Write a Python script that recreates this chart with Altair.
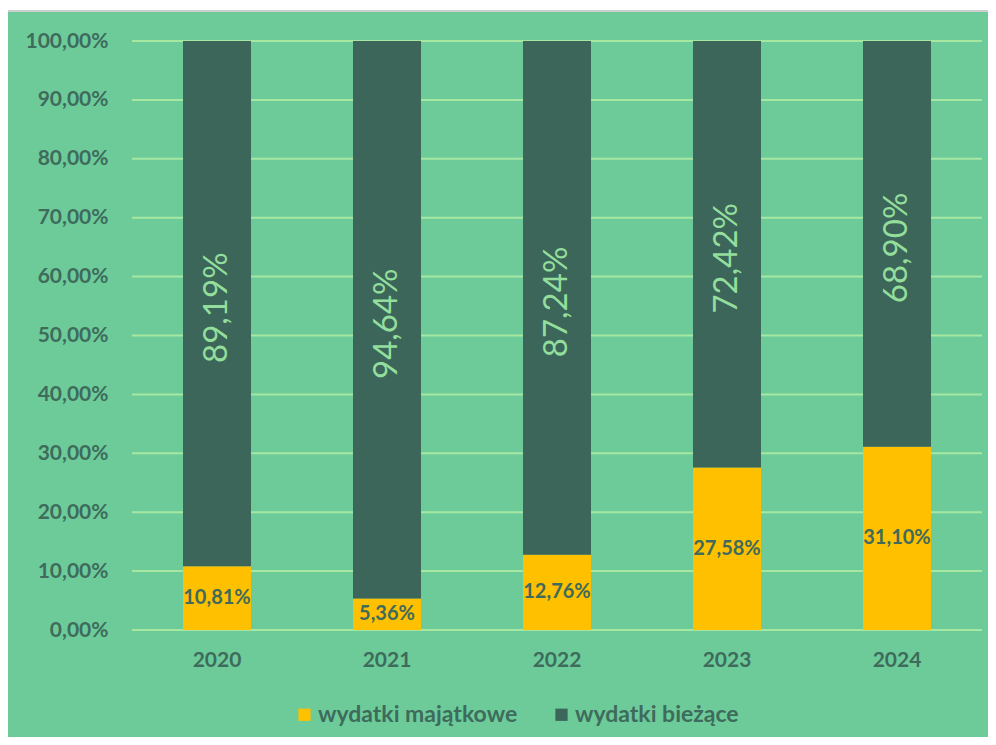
import altair as alt
import pandas as pd

years = ["2020", "2021", "2022", "2023", "2024"]
majatkowe = [10.81, 5.36, 12.76, 27.58, 31.10]
biezace = [89.19, 94.64, 87.24, 72.42, 68.90]
series_names = ["wydatki majątkowe", "wydatki bieżące"]
series_colors = ["#FFC000", "#3B6659"]
y_ticks = [0, 10, 20, 30, 40, 50, 60, 70, 80, 90, 100]

rows = []
for i, y in enumerate(years):
    rows.append({"year": y, "series": series_names[0], "value": majatkowe[i], "order": 0})
    rows.append({"year": y, "series": series_names[1], "value": biezace[i], "order": 1})
df = pd.DataFrame(rows)

BG = "#6DCB9A"
DARK = "#3E6B5C"
GRID = "#A6E8A2"
LIGHT = "#93DE9C"
FONT = "Lato"

PL, PT, W, H = 124, 33, 850, 589
TOTAL_W, TOTAL_H = 980, 729

yscale = alt.Scale(domain=[0, 100], nice=False)

base = alt.Chart(df).transform_stack(
    stack="value", groupby=["year"], as_=["v0", "v1"],
    sort=[alt.SortField("order", order="ascending")]
).transform_calculate(
    mid="(datum.v0 + datum.v1) / 2",
    label="replace(format(datum.value, '.2f'), '.', ',') + '%'"
)

xenc = alt.X("year:N", sort=years, title=None,
             scale=alt.Scale(paddingInner=0.6, paddingOuter=0.3),
             axis=alt.Axis(labelAngle=0, labelFontSize=21, labelFontWeight="bold",
                           labelColor=DARK, labelFont=FONT, labelPadding=19,
                           ticks=False, domain=False, grid=False, zindex=1))

frame = alt.Chart(pd.DataFrame({"a": [0]})).mark_rect(
    fill=BG, stroke="#CFCFCF", strokeWidth=2
).encode(
    x=alt.value(-PL - 2), x2=alt.value(TOTAL_W - PL + 4),
    y=alt.value(-PT + 3), y2=alt.value(TOTAL_H - PT + 4)
)

grid = alt.Chart(pd.DataFrame({"t": y_ticks})).mark_rule(
    color=GRID, strokeWidth=2
).encode(
    y=alt.Y("t:Q", scale=yscale, title=None,
            axis=alt.Axis(values=y_ticks,
                          labelExpr="replace(format(datum.value, '.2f'), '.', ',') + '%'",
                          labelFontSize=21, labelFontWeight="bold", labelColor=DARK,
                          labelFont=FONT, labelPadding=24, ticks=False, domain=False,
                          grid=False, zindex=1)),
    x=alt.value(0), x2=alt.value(W),
)

bars = base.mark_bar().encode(
    x=xenc,
    y=alt.Y("v0:Q", scale=yscale, title=None),
    y2="v1:Q",
    color=alt.Color("series:N",
                    scale=alt.Scale(domain=series_names, range=series_colors),
                    legend=alt.Legend(title=None, orient="none", direction="horizontal",
                                      legendX=161, legendY=662, symbolType="square",
                                      symbolSize=150, symbolStrokeWidth=0,
                                      labelFontSize=23, labelFontWeight="bold",
                                      labelColor=DARK, labelFont=FONT, labelLimit=0,
                                      columnPadding=32, labelOffset=2)),
    order=alt.Order("order:Q"),
)

lab_m = base.transform_filter(alt.datum.order == 0).mark_text(
    fontSize=20, fontWeight="bold", color=DARK, font=FONT
).encode(x=alt.X("year:N", sort=years), y=alt.Y("mid:Q", scale=yscale), text="label:N")

lab_b = base.transform_filter(alt.datum.order == 1).mark_text(
    fontSize=33, color=LIGHT, font=FONT, angle=270, dx=-4
).encode(x=alt.X("year:N", sort=years), y=alt.Y("mid:Q", scale=yscale), text="label:N")

chart = alt.layer(frame, grid, bars, lab_m, lab_b).properties(
    width=W, height=H,
    autosize=alt.AutoSizeParams(type="none"),
    padding={"left": PL, "top": PT, "right": TOTAL_W - PL - W, "bottom": TOTAL_H - PT - H},
    background="white",
).configure_view(stroke=None)

chart.save("out.html", embed_options={"renderer": "svg", "actions": False})
